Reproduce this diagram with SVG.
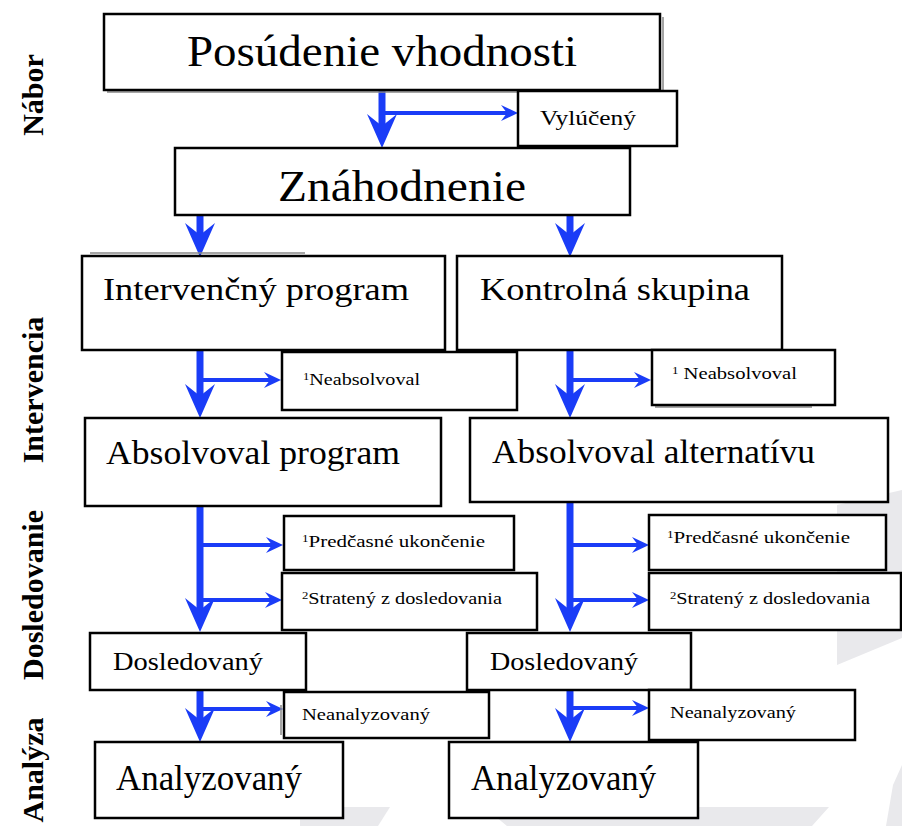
<svg xmlns="http://www.w3.org/2000/svg" width="902" height="826" viewBox="0 0 902 826">
<style>
.bx{fill:#fff;stroke:#000;stroke-width:2.5}
.sh{fill:none;stroke:#888;stroke-width:1.5}
.t{font-family:"Liberation Serif","Times New Roman",serif;fill:#000}
.side{font-family:"Liberation Serif","Times New Roman",serif;font-weight:bold;font-size:30px;fill:#000}
.v{stroke:#1a3cf7;stroke-width:7;fill:none}
.h{stroke:#1a3cf7;stroke-width:4;fill:none}
.wm{fill:#e9e9ec}
</style>
<defs>
<marker id="big" markerUnits="userSpaceOnUse" markerWidth="40" markerHeight="34" viewBox="-36 -17 40 34" refX="-20" refY="0" orient="auto">
<path d="M0,0 L-34,-15 L-22,0 L-34,15 Z" fill="#1a3cf7"/>
</marker>
<marker id="small" markerUnits="userSpaceOnUse" markerWidth="20" markerHeight="20" viewBox="-19 -10 20 20" refX="-10" refY="0" orient="auto">
<path d="M0,0 L-17,-8 L-11,0 L-17,8 Z" fill="#1a3cf7"/>
</marker>
</defs>
<rect width="902" height="826" fill="#fff"/>
<g id="watermark">
<polygon class="wm" points="837,505 902,490 902,638 837,665"/>
<polygon class="wm" points="886,826 893,785 902,765 902,826"/>
<polygon class="wm" points="300,807 390,807 378,826 300,826"/>
<polygon class="wm" points="484,807 568,807 575,815 591,807 829,807 812,826 507,826"/>
</g>
<g id="side-labels">
<text class="side" transform="translate(43,95) rotate(-90)" text-anchor="middle">Nábor</text>
<text class="side" transform="translate(43,390) rotate(-90)" text-anchor="middle">Intervencia</text>
<text class="side" transform="translate(43,595) rotate(-90)" text-anchor="middle">Dosledovanie</text>
<text class="side" transform="translate(43,770) rotate(-90)" text-anchor="middle">Analýza</text>
</g>
<g id="connectors">
<line class="v" x1="382" y1="90" x2="382" y2="128" marker-end="url(#big)"/>
<line class="h" x1="382" y1="113" x2="508" y2="113" marker-end="url(#small)"/>
<line class="v" x1="200" y1="215" x2="200" y2="237" marker-end="url(#big)"/>
<line class="v" x1="570" y1="215" x2="570" y2="237" marker-end="url(#big)"/>
<line class="v" x1="200" y1="350" x2="200" y2="398" marker-end="url(#big)"/>
<line class="h" x1="200" y1="380" x2="271" y2="380" marker-end="url(#small)"/>
<line class="v" x1="570" y1="350" x2="570" y2="398" marker-end="url(#big)"/>
<line class="h" x1="570" y1="380" x2="641" y2="380" marker-end="url(#small)"/>
<line class="v" x1="200" y1="506" x2="200" y2="612" marker-end="url(#big)"/>
<line class="h" x1="200" y1="545" x2="273" y2="545" marker-end="url(#small)"/>
<line class="h" x1="200" y1="600" x2="272" y2="600" marker-end="url(#small)"/>
<line class="v" x1="570" y1="502" x2="570" y2="612" marker-end="url(#big)"/>
<line class="h" x1="570" y1="545" x2="639" y2="545" marker-end="url(#small)"/>
<line class="h" x1="570" y1="600" x2="639" y2="600" marker-end="url(#small)"/>
<line class="v" x1="200" y1="690" x2="200" y2="722" marker-end="url(#big)"/>
<line class="h" x1="200" y1="709" x2="273" y2="709" marker-end="url(#small)"/>
<line class="v" x1="570" y1="690" x2="570" y2="722" marker-end="url(#big)"/>
<line class="h" x1="570" y1="708" x2="639" y2="708" marker-end="url(#small)"/>
</g>
<g id="n-posudenie">
<polyline class="sh" points="663,17 663,92 107,92"/>
<rect class="bx" x="104" y="14" width="556" height="76"/>
<text class="t" x="187" y="66" font-size="44" textLength="390" lengthAdjust="spacingAndGlyphs">Posúdenie vhodnosti</text>
</g>
<g id="n-vyluceny">
<rect class="bx" x="518" y="91" width="159" height="55"/>
<text class="t" x="540" y="125" font-size="20" textLength="96" lengthAdjust="spacingAndGlyphs">Vylúčený</text>
</g>
<g id="n-znahodnenie">
<rect class="bx" x="175" y="148" width="455" height="67"/>
<text class="t" x="278" y="201" font-size="44" textLength="248" lengthAdjust="spacingAndGlyphs">Znáhodnenie</text>
</g>
<g id="n-intervencny">
<line class="sh" x1="90" y1="253" x2="305" y2="253"/>
<rect class="bx" x="82" y="256" width="363" height="94"/>
<text class="t" x="103" y="300" font-size="32" textLength="306" lengthAdjust="spacingAndGlyphs">Intervenčný program</text>
</g>
<g id="n-kontrolna">
<rect class="bx" x="457" y="256" width="325" height="94"/>
<text class="t" x="480" y="300" font-size="32" textLength="270" lengthAdjust="spacingAndGlyphs">Kontrolná skupina</text>
</g>
<g id="n-neabs-l">
<rect class="bx" x="282" y="352" width="235" height="58"/>
<text class="t" x="303" y="385" font-size="16" textLength="117" lengthAdjust="spacingAndGlyphs"><tspan font-size="10" dy="-5">1</tspan><tspan dy="5">Neabsolvoval</tspan></text>
</g>
<g id="n-neabs-r">
<line class="sh" x1="655" y1="407" x2="812" y2="407"/>
<rect class="bx" x="652" y="350" width="183" height="55"/>
<text class="t" x="672" y="379" font-size="16" textLength="125" lengthAdjust="spacingAndGlyphs"><tspan font-size="10" dy="-5">1</tspan><tspan dy="5"> Neabsolvoval</tspan></text>
</g>
<g id="n-absolvoval-program">
<rect class="bx" x="85" y="418" width="356" height="88"/>
<text class="t" x="106" y="464" font-size="33" textLength="294" lengthAdjust="spacingAndGlyphs">Absolvoval program</text>
</g>
<g id="n-absolvoval-alt">
<rect class="bx" x="470" y="418" width="418" height="84"/>
<text class="t" x="492" y="463" font-size="33" textLength="323" lengthAdjust="spacingAndGlyphs">Absolvoval alternatívu</text>
</g>
<g id="n-predcasne-l">
<rect class="bx" x="284" y="516" width="230" height="54"/>
<text class="t" x="302" y="547" font-size="16" textLength="183" lengthAdjust="spacingAndGlyphs"><tspan font-size="10" dy="-5">1</tspan><tspan dy="5">Predčasné ukončenie</tspan></text>
</g>
<g id="n-strateny-l">
<rect class="bx" x="282" y="573" width="255" height="57"/>
<text class="t" x="302" y="604" font-size="16" textLength="200" lengthAdjust="spacingAndGlyphs"><tspan font-size="10" dy="-5">2</tspan><tspan dy="5">Stratený z dosledovania</tspan></text>
</g>
<g id="n-predcasne-r">
<rect class="bx" x="649" y="515" width="237" height="55"/>
<text class="t" x="667" y="543" font-size="16" textLength="183" lengthAdjust="spacingAndGlyphs"><tspan font-size="10" dy="-5">1</tspan><tspan dy="5">Predčasné ukončenie</tspan></text>
</g>
<g id="n-strateny-r">
<rect class="bx" x="649" y="573" width="252" height="57"/>
<text class="t" x="670" y="604" font-size="16" textLength="200" lengthAdjust="spacingAndGlyphs"><tspan font-size="10" dy="-5">2</tspan><tspan dy="5">Stratený z dosledovania</tspan></text>
</g>
<g id="n-dosledovany-l">
<rect class="bx" x="90" y="633" width="216" height="57"/>
<text class="t" x="113" y="670" font-size="26" textLength="150" lengthAdjust="spacingAndGlyphs">Dosledovaný</text>
</g>
<g id="n-dosledovany-r">
<rect class="bx" x="467" y="633" width="224" height="57"/>
<text class="t" x="490" y="670" font-size="26" textLength="148" lengthAdjust="spacingAndGlyphs">Dosledovaný</text>
</g>
<g id="n-neanal-l">
<line class="sh" x1="281" y1="705" x2="281" y2="735"/>
<rect class="bx" x="284" y="692" width="205" height="46"/>
<text class="t" x="302" y="720" font-size="16" textLength="128" lengthAdjust="spacingAndGlyphs">Neanalyzovaný</text>
</g>
<g id="n-neanal-r">
<rect class="bx" x="649" y="690" width="206" height="50"/>
<text class="t" x="670" y="718" font-size="16" textLength="126" lengthAdjust="spacingAndGlyphs">Neanalyzovaný</text>
</g>
<g id="n-analyzovany-l">
<rect class="bx" x="95" y="742" width="248" height="76"/>
<text class="t" x="116" y="790" font-size="35" textLength="186" lengthAdjust="spacingAndGlyphs">Analyzovaný</text>
</g>
<g id="n-analyzovany-r">
<rect class="bx" x="449" y="742" width="249" height="76"/>
<text class="t" x="471" y="790" font-size="35" textLength="185" lengthAdjust="spacingAndGlyphs">Analyzovaný</text>
</g>
</svg>
